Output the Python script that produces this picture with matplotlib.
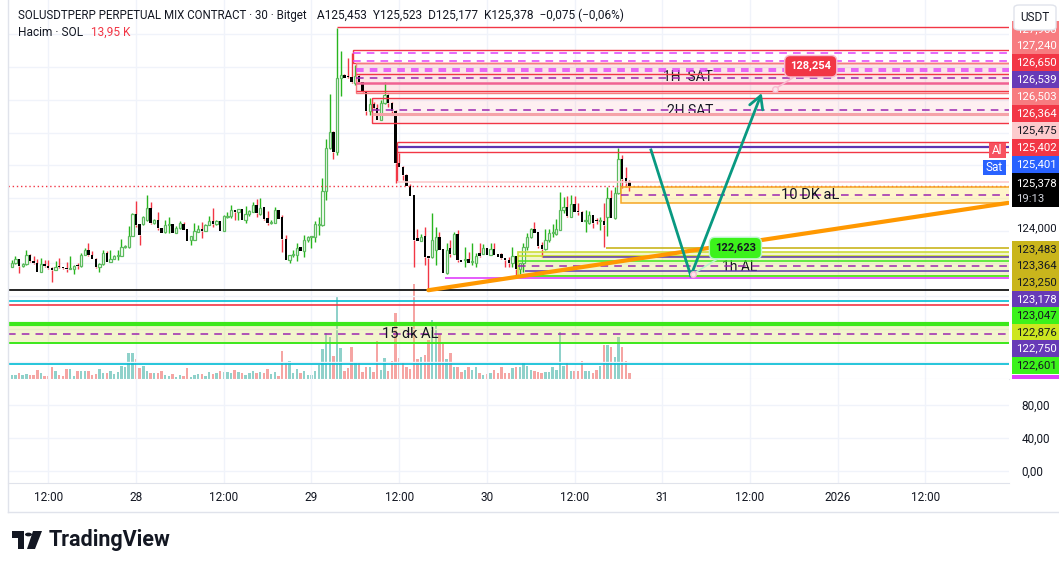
import matplotlib.pyplot as plt
from matplotlib.patches import Rectangle, FancyBboxPatch, Polygon, Circle
import numpy as np

plt.rcParams['font.family'] = ['Roboto', 'DejaVu Sans']

W, H = 1059, 570

# 30 minute bars, time counted in hours from 27 Dec 00:00
first_bar_hour = 7.0
bar_step = 0.5

opens = [
    122.90, 123.00, 123.12, 122.92, 122.97, 123.27, 123.07, 123.00, 122.75, 122.97,
    122.92, 122.86, 122.80, 122.90, 122.89, 122.85, 122.83, 122.84, 122.93, 122.92,
    123.27, 123.41, 123.25, 123.14, 122.88, 122.97, 123.33, 123.05, 123.14, 123.23,
    123.23, 123.49, 123.49, 123.85, 124.51, 124.19, 124.19, 124.32, 124.68, 124.24,
    124.34, 124.07, 123.97, 124.16, 124.19, 123.94, 124.07, 124.22, 124.04, 123.71,
    123.73, 123.96, 124.05, 123.99, 124.17, 124.29, 124.22, 124.30, 124.00, 124.43,
    124.45, 124.63, 124.58, 124.66, 124.32, 124.50, 124.58, 124.80, 124.51, 124.71,
    124.39, 124.25, 124.24, 124.62, 124.41, 123.76, 123.10, 123.25, 123.25, 123.50,
    123.37, 123.71, 123.81, 123.81, 124.17, 124.17, 125.21, 126.52, 127.01, 126.41,
    128.68, 128.76, 128.70, 128.69, 128.51, 128.74, 128.54, 128.23, 127.67, 127.87,
    127.74, 127.40, 127.90, 128.15, 127.92, 127.66, 126.08, 125.96, 125.70, 125.37,
    125.09, 123.79, 123.69, 123.84, 123.22, 123.20, 123.41, 123.82, 123.44, 122.71,
    123.46, 123.29, 123.90, 123.10, 123.10, 123.12, 123.05, 123.02, 123.33, 123.29,
    123.46, 123.26, 123.43, 123.29, 123.29, 123.15, 123.10, 123.02, 123.22, 122.82,
    123.00, 123.49, 123.80, 124.05, 123.95, 123.56, 123.43, 123.71, 123.92, 123.89,
    124.02, 124.63, 124.73, 124.43, 124.82, 124.60, 124.58, 124.30, 124.24, 124.48,
    124.31, 124.29, 124.31, 124.43, 124.99, 124.38, 125.14, 126.18, 125.60, 125.50,
]
highs = [
    123.10, 123.22, 123.14, 123.00, 123.41, 123.29, 123.24, 123.14, 123.16, 123.10,
    123.10, 122.90, 123.06, 123.16, 122.90, 123.05, 123.23, 122.95, 123.02, 123.32,
    123.48, 123.61, 123.37, 123.16, 123.01, 123.41, 123.38, 123.41, 123.25, 123.41,
    123.75, 123.56, 124.14, 124.53, 124.91, 124.20, 124.44, 125.09, 124.87, 124.36,
    124.56, 124.09, 124.32, 124.41, 124.20, 124.15, 124.29, 124.27, 124.06, 123.84,
    124.24, 124.16, 124.26, 124.19, 124.45, 124.70, 124.34, 124.31, 124.48, 124.56,
    124.78, 124.64, 124.67, 124.67, 124.76, 124.63, 124.89, 124.97, 124.99, 124.73,
    124.61, 124.32, 124.73, 124.63, 124.48, 123.86, 123.26, 123.41, 123.61, 123.51,
    123.86, 123.84, 123.83, 124.29, 124.43, 125.60, 126.80, 128.18, 127.05, 130.19,
    129.49, 128.78, 129.27, 129.42, 129.07, 128.76, 128.56, 128.25, 128.05, 127.94,
    127.87, 128.00, 128.56, 128.17, 127.93, 127.68, 126.39, 125.98, 125.72, 125.43,
    125.10, 124.05, 123.89, 124.12, 123.24, 124.55, 124.12, 123.97, 123.45, 123.61,
    123.71, 123.97, 124.02, 123.11, 123.49, 123.36, 123.61, 123.31, 123.61, 123.59,
    123.47, 123.61, 123.61, 123.30, 123.31, 123.16, 123.20, 123.51, 123.23, 123.01,
    123.61, 123.92, 124.07, 124.26, 123.96, 123.66, 124.06, 124.06, 124.22, 124.35,
    125.19, 125.04, 125.06, 125.09, 125.06, 124.86, 124.59, 124.63, 124.61, 124.49,
    124.38, 124.41, 124.84, 125.35, 125.24, 125.35, 126.52, 126.32, 125.96, 125.55,
]
lows = [
    122.88, 122.98, 122.71, 122.90, 122.95, 123.05, 122.98, 122.74, 122.73, 122.90,
    122.84, 122.43, 122.79, 122.85, 122.83, 122.73, 122.82, 122.69, 122.83, 122.90,
    123.26, 123.24, 123.12, 122.86, 122.73, 122.96, 123.03, 123.03, 123.12, 123.10,
    123.22, 123.47, 123.48, 123.83, 124.12, 123.56, 124.17, 124.30, 124.22, 124.22,
    124.02, 123.93, 123.92, 123.94, 123.93, 123.92, 124.06, 124.01, 123.67, 123.56,
    123.72, 123.95, 123.78, 123.98, 124.16, 124.12, 124.17, 123.99, 123.99, 124.38,
    124.38, 124.34, 124.32, 124.32, 124.24, 124.45, 124.57, 124.43, 124.48, 124.34,
    124.17, 124.20, 124.23, 124.36, 123.35, 123.09, 123.00, 123.20, 123.07, 123.37,
    123.20, 123.66, 123.48, 123.66, 123.88, 124.15, 124.94, 126.50, 126.19, 126.31,
    128.12, 128.66, 128.66, 128.51, 128.47, 128.52, 128.22, 127.54, 127.54, 127.72,
    127.38, 127.38, 127.88, 127.79, 127.59, 125.45, 125.95, 125.55, 125.36, 125.05,
    122.90, 123.68, 123.68, 122.95, 122.18, 123.18, 122.95, 123.40, 122.70, 122.67,
    123.20, 123.28, 123.05, 123.04, 122.90, 123.01, 122.95, 122.90, 123.21, 123.28,
    123.25, 123.25, 123.25, 123.19, 123.14, 122.90, 122.88, 122.90, 122.64, 122.69,
    122.75, 123.41, 123.79, 123.92, 123.47, 123.20, 123.42, 123.66, 123.82, 123.88,
    124.01, 124.53, 124.41, 124.42, 124.57, 124.47, 124.26, 123.97, 124.20, 124.09,
    124.22, 124.02, 123.49, 123.84, 124.38, 124.37, 125.12, 125.30, 125.35, 125.22,
]
closes = [
    123.00, 123.12, 122.92, 122.97, 123.27, 123.07, 123.00, 122.75, 122.97, 122.92,
    122.86, 122.80, 122.90, 122.89, 122.85, 122.83, 122.84, 122.93, 122.92, 123.27,
    123.41, 123.25, 123.14, 122.88, 122.97, 123.33, 123.05, 123.14, 123.23, 123.23,
    123.49, 123.49, 123.85, 124.51, 124.16, 123.87, 124.41, 124.68, 124.24, 124.34,
    124.07, 123.94, 124.17, 124.19, 123.94, 124.09, 124.24, 124.02, 123.68, 123.83,
    123.99, 124.06, 123.99, 124.18, 124.30, 124.22, 124.30, 124.00, 124.45, 124.45,
    124.63, 124.58, 124.66, 124.32, 124.51, 124.61, 124.80, 124.53, 124.70, 124.37,
    124.25, 124.26, 124.62, 124.37, 123.76, 123.10, 123.25, 123.27, 123.48, 123.37,
    123.73, 123.81, 123.82, 124.19, 124.21, 125.21, 126.52, 127.01, 126.41, 128.68,
    128.75, 128.68, 128.69, 128.54, 128.73, 128.54, 128.23, 127.67, 127.86, 127.74,
    127.40, 127.89, 128.15, 127.92, 127.66, 126.08, 125.96, 125.70, 125.37, 125.06,
    123.73, 123.69, 123.82, 123.20, 123.15, 123.71, 123.82, 123.41, 122.71, 123.41,
    123.29, 123.90, 123.10, 123.05, 123.11, 123.02, 123.06, 123.22, 123.22, 123.46,
    123.26, 123.43, 123.26, 123.20, 123.15, 123.10, 123.02, 123.22, 122.82, 123.00,
    123.51, 123.80, 124.04, 123.94, 123.53, 123.43, 123.71, 123.92, 123.93, 124.04,
    124.63, 124.73, 124.45, 124.82, 124.58, 124.56, 124.28, 124.30, 124.47, 124.24,
    124.30, 124.29, 124.17, 124.99, 124.40, 125.14, 126.18, 125.57, 125.47, 125.38,
]
volumes_k = [
    10, 10, 15, 10, 12.5, 10, 10, 22.5, 15, 7.5,
    7.5, 30, 20, 10, 7.5, 25, 25, 7.5, 20, 20,
    20, 20, 10, 12.5, 25, 15, 15, 20, 12.5, 17.5,
    32.5, 30, 65, 65, 50, 27.5, 32.5, 20, 15, 15,
    15, 20, 10, 7.5, 12.5, 5, 10, 7.5, 27.5, 5,
    10, 12.5, 12.5, 7.5, 17.5, 12.5, 15, 20, 17.5, 17.5,
    15, 22.5, 17.5, 15, 10, 15, 20, 15, 17.5, 15,
    25, 12.5, 17.5, 7.5, 70, 42.5, 45, 15, 25, 15,
    20, 10, 10, 20, 35, 75, 115, 105, 57.5, 207.5,
    77.5, 20, 27.5, 80, 40, 40, 17.5, 30, 30, 17.5,
    95, 22.5, 52.5, 20, 45, 165, 52.5, 40, 30, 25,
    237.5, 50, 55, 60, 97.5, 147.5, 132.5, 112.5, 87.5, 50,
    65, 30, 30, 17.5, 22.5, 30, 22.5, 30, 15, 10,
    12.5, 15, 22.5, 15, 30, 15, 15, 27.5, 30, 30,
    40, 32.5, 22.5, 20, 17.5, 15, 17.5, 17.5, 30, 22.5,
    117.5, 32.5, 42.5, 20, 20, 20, 45, 20, 20, 15,
    22.5, 32.5, 85, 85, 80, 55, 105, 80, 45, 13.95,
]

time_ticks = [12, 24, 36, 48, 60, 72, 84, 96, 108, 120, 132]
time_labels = ['12:00', '28', '12:00', '29', '12:00', '30', '12:00', '31', '12:00', '2026', '12:00']
osc_ticks = [0, 40, 80]
osc_labels = ['0,00', '40,00', '80,00']

# drawings on the chart (hour where they start, prices)
spike_ray = (51.5, 130.22)
box_a = (53.7, 129.52, 129.12)
box_a_dashes = [129.43, 129.19]
box_b = (54.1, 129.12, 128.22)
box_b_dashes = [128.94, 128.88, 128.66]
box_b_lines = [128.78, 128.51, 128.28]
box_c = (56.3, 128.05, 127.28)
box_c_dash = 127.69
box_c_thick = 127.57
res_start = 59.7
res_lines = [126.70, 126.40]
res_mid = 126.57
pale_line = 125.475
last_price = 125.378
dk10_box = (90.35, 125.33, 124.84)
dk10_dash = 125.09
olive_line = (88.3, 123.48)
h1_box = (76.25, 123.36, 122.61)
h1_lime = [123.23, 123.07, 122.62]
h1_dash = 122.93
purple_lines = [(79.7, 123.19), (77.2, 122.76)]
magenta_line = (66.3, 122.54)
low_line = 122.18
cyan_lines = [121.84, 119.92]
red_line = 121.72
dk15_box = (121.15, 120.56)
dk15_dash = 120.84
trend_hours = [64.0, 143.3]
trend_prices = [122.18, 124.85]
path_hours = [94.45, 99.9, 109.6]
path_prices = [126.47, 122.62, 128.21]
target_hi = (111.4, 128.33, '128,254')
target_lo = (100.2, 122.68, '122,623')

# stacked price scale tags (text, background, text colour)
upper_tags = [('127,240', '#F77C80', 'white'), ('126,650', '#F23645', 'white'),
              ('126,539', '#673AB7', 'white'), ('126,503', '#F77C80', 'white'),
              ('126,364', '#F23645', 'white'), ('125,475', '#FCCBCD', '#131722'),
              ('125,402', '#F23645', 'white'), ('125,401', '#2962FF', 'white')]
lower_tags = [('123,483', '#C9B51C', '#131722'), ('123,364', '#C9B51C', '#131722'),
              ('123,250', '#C9B51C', '#131722'), ('123,178', '#673AB7', 'white'),
              ('123,047', '#3CF21B', '#131722'), ('122,876', '#CDE620', '#131722'),
              ('122,750', '#673AB7', 'white'), ('122,601', '#3CF21B', '#131722')]

RED = '#F23645'
PURPLE_D = '#9C27B0'
MAGENTA = '#E040FB'
LIME = '#3CE81B'
GRID = '#F0F3FA'
TAG_FS = 8.2


def fx(px):
    return px / W


def fy(py):
    return 1 - py / H


fig = plt.figure(figsize=(W / 100, H / 100), dpi=100)
fig.patch.set_facecolor('white')

ax_left, ax_right = 8, 1009
ax = fig.add_axes([fx(ax_left), fy(379), (ax_right - ax_left) / W, 379 / H])
osc = fig.add_axes([fx(ax_left), fy(483), (ax_right - ax_left) / W, 104 / H])

x0 = 24 + (ax_left - 136) / 7.31
x1 = 24 + (ax_right - 136) / 7.31
ax.set_xlim(x0, x1)
osc.set_xlim(x0, x1)
ax.set_ylim(119.465, 131.055)
osc.set_ylim(-14.5, 111.5)

# volume behind candles
vol = ax.twinx()
vol.set_ylim(0, 947.5)
vol.set_zorder(ax.get_zorder() - 1)
ax.patch.set_visible(False)

o = np.array(opens)
hi = np.array(highs)
lo = np.array(lows)
c = np.array(closes)
t = first_bar_hour + bar_step * np.arange(len(o))
up = c >= o
top = np.maximum(o, c)
bot = np.minimum(o, c)

vol.bar(t, volumes_k, width=0.33, color=np.where(up, '#8FD1CA', '#F5A5A3'), linewidth=0)

for a in (ax, osc, vol):
    for s in a.spines.values():
        s.set_visible(False)
    a.tick_params(length=0)
vol.set_yticks([])
ax.set_yticks(np.arange(120, 131))
ax.set_yticklabels([])
ax.set_xticks(time_ticks)
ax.set_xticklabels([])
ax.grid(True, color=GRID, lw=1, zorder=0)
osc.set_xticks(time_ticks)
osc.set_xticklabels(time_labels, fontsize=8.5, color='#131722')
osc.tick_params(axis='x', pad=6)
osc.yaxis.tick_right()
osc.set_yticks(osc_ticks)
osc.set_yticklabels(osc_labels, fontsize=8.5, color='#131722', ha='left')
osc.tick_params(axis='y', pad=9)
osc.grid(True, color=GRID, lw=1)
osc.spines['bottom'].set_visible(True)
osc.spines['bottom'].set_color('#E0E3EB')
ax.spines['bottom'].set_visible(True)
ax.spines['bottom'].set_color('#E6E8EE')

# candles (hollow up bars, filled down bars)
ax.vlines(t[up], top[up], hi[up], color='#28B51E', lw=1, zorder=3)
ax.vlines(t[up], lo[up], bot[up], color='#28B51E', lw=1, zorder=3)
ax.vlines(t[~up], top[~up], hi[~up], color=RED, lw=1, zorder=3)
ax.vlines(t[~up], lo[~up], bot[~up], color=RED, lw=1, zorder=3)
body = np.maximum(top - bot, 0.03)
ax.bar(t[up], body[up], bottom=bot[up], width=0.32, facecolor='white', edgecolor='#5DBB5F',
       linewidth=0.9, zorder=4)
ax.bar(t[~up], body[~up], bottom=bot[~up], width=0.32, color='black', linewidth=0, zorder=4)

xr = x1

# sell zones at the top
ax.hlines(spike_ray[1], spike_ray[0], xr, color=RED, lw=1, zorder=5)
ax.add_patch(Rectangle((box_a[0], box_a[2]), xr - box_a[0] + 1, box_a[1] - box_a[2],
                       facecolor='none', edgecolor=RED, lw=1, zorder=5))
ax.hlines(box_a_dashes, box_a[0], xr, color=MAGENTA, lw=1.1, linestyles=(0, (5, 4)), zorder=5)
ax.add_patch(Rectangle((box_b[0], box_b[2]), xr - box_b[0] + 1, box_b[1] - box_b[2],
                       facecolor=RED, alpha=0.12, edgecolor='none', zorder=2))
ax.add_patch(Rectangle((box_b[0], box_b[2]), xr - box_b[0] + 1, box_b[1] - box_b[2],
                       facecolor='none', edgecolor='#F77C80', lw=1, zorder=5))
ax.hlines(box_b_dashes, box_b[0], xr, color=[MAGENTA, MAGENTA, PURPLE_D], lw=1.1,
          linestyles=(0, (5, 4)), zorder=5)
ax.hlines(box_b_lines, box_b[0], xr, color=[RED, '#F06292', RED], lw=[1, 1.8, 1], zorder=5)
ax.add_patch(Rectangle((box_c[0], box_c[2]), xr - box_c[0] + 1, box_c[1] - box_c[2],
                       facecolor=RED, alpha=0.07, edgecolor='none', zorder=2))
ax.add_patch(Rectangle((box_c[0], box_c[2]), xr - box_c[0] + 1, box_c[1] - box_c[2],
                       facecolor='none', edgecolor=RED, lw=1, zorder=5))
ax.hlines(box_c_dash, box_c[0], xr, color=PURPLE_D, lw=1.1, linestyles=(0, (5, 4)), zorder=5)
ax.hlines(box_c_thick, box_c[0], xr, color='#F5A3A8', lw=2.2, zorder=5)
ax.text(99.5, 128.70, '1H  SAT', fontsize=10, color='#131722', ha='center', va='center', zorder=4)
ax.text(99.8, 127.66, '2H SAT', fontsize=10, color='#131722', ha='center', va='center', zorder=4)

ax.hlines(res_lines, res_start, xr, color=RED, lw=1, zorder=5)
ax.hlines(res_mid, res_start, xr, color='#5E35B1', lw=1.6, zorder=5)
ax.vlines(res_start, pale_line, res_lines[0], color=RED, lw=1, zorder=5)
ax.hlines(pale_line, res_start, xr, color='#FCCBCD', lw=1.2, zorder=5)
ax.axhline(last_price, color=RED, lw=1, ls=(0, (1, 2)), zorder=5)

# 10 DK zone
ax.add_patch(Rectangle((dk10_box[0], dk10_box[2]), xr - dk10_box[0] + 1, dk10_box[1] - dk10_box[2],
                       facecolor='#FFEB8A', alpha=0.45, edgecolor='none', zorder=2))
ax.add_patch(Rectangle((dk10_box[0], dk10_box[2]), xr - dk10_box[0] + 1, dk10_box[1] - dk10_box[2],
                       facecolor='none', edgecolor='#F5A623', lw=1.1, zorder=5))
ax.hlines(dk10_dash, dk10_box[0], xr, color=PURPLE_D, lw=1.1, linestyles=(0, (5, 4)), zorder=5)
ax.text(116.2, dk10_dash, '10 DK aL', fontsize=10.5, color='#131722', ha='center', va='center',
        zorder=6)

# 1h buy zone
ax.hlines(olive_line[1], olive_line[0], xr, color='#C9B51C', lw=1.2, zorder=5)
ax.add_patch(Rectangle((h1_box[0], h1_box[2]), xr - h1_box[0] + 1, h1_box[1] - h1_box[2],
                       facecolor='#D4E157', alpha=0.3, edgecolor='none', zorder=2))
ax.add_patch(Rectangle((h1_box[0], h1_box[2]), xr - h1_box[0] + 1, h1_box[1] - h1_box[2],
                       facecolor='none', edgecolor='#CDDC39', lw=1.2, zorder=5))
ax.hlines(h1_lime, h1_box[0], xr, color=['#C6E01E', LIME, LIME], lw=1.1, zorder=5)
ax.hlines(h1_dash, h1_box[0], xr, color=PURPLE_D, lw=1.1, linestyles=(0, (5, 4)), zorder=5)
for start, price in purple_lines:
    ax.hlines(price, start, xr, color='#5E35B1', lw=1.1, zorder=5)
ax.hlines(magenta_line[1], magenta_line[0], xr, color=MAGENTA, lw=1.2, zorder=5)
ax.text(106.6, 122.90, '1h AL', fontsize=10, color='#131722', ha='center', va='center', zorder=4)

# levels below the low
ax.axhline(low_line, color='black', lw=1.2, zorder=5)
for p in cyan_lines:
    ax.axhline(p, color='#00BCD4', lw=1.2, zorder=5)
ax.axhline(red_line, color=RED, lw=1.2, zorder=5)
ax.axhspan(dk15_box[1], dk15_box[0], facecolor='#D4E157', alpha=0.3, lw=0, zorder=2)
ax.axhline(dk15_box[0], color=LIME, lw=3, zorder=5)
ax.axhline(dk15_box[1], color=LIME, lw=1.4, zorder=5)
ax.axhline(dk15_dash, color=PURPLE_D, lw=1.1, ls=(0, (5, 4)), zorder=5)
ax.text(61.5, dk15_dash, '15 dk AL', fontsize=10.5, color='#131722', ha='center', va='center',
        zorder=6)

# trend line and projected path
ax.plot(trend_hours, trend_prices, color='#FF9800', lw=3, solid_capstyle='round', zorder=6)
ax.plot(path_hours[:2], path_prices[:2], color='#089981', lw=2, zorder=7)
ax.annotate('', xy=(path_hours[2], path_prices[2]), xytext=(path_hours[1], path_prices[1]),
            arrowprops=dict(arrowstyle='->,head_length=0.9,head_width=0.5', color='#089981',
                            lw=2, shrinkA=0, shrinkB=0), zorder=7)

ax.annotate(target_hi[2], xy=target_hi[:2], xytext=(116.3, 129.03), fontsize=8,
            fontweight='bold', color='white', ha='center', va='center', zorder=8,
            bbox=dict(boxstyle='round,pad=0.5', fc=RED, ec='#F8BBD0', lw=1),
            arrowprops=dict(arrowstyle='-', color='#F8BBD0', lw=1.2, shrinkA=0, shrinkB=2))
ax.plot(*target_hi[:2], 'o', ms=4, mfc='#FCE4EC', mec='#F8BBD0', zorder=8)
ax.annotate(target_lo[2], xy=target_lo[:2], xytext=(106.0, 123.47), fontsize=8,
            fontweight='bold', color='#131722', ha='center', va='center', zorder=8,
            bbox=dict(boxstyle='round,pad=0.5', fc='#3CF21B', ec='#B9F6CA', lw=1),
            arrowprops=dict(arrowstyle='-', color='#B9F6CA', lw=1.2, shrinkA=0, shrinkB=2))
ax.plot(*target_lo[:2], 'o', ms=4, mfc='#FCE4EC', mec='#F8BBD0', zorder=8)


# price scale tags
def tag(y_mid, text, bg, fg, h=17):
    fig.patches.append(Rectangle((fx(1012), fy(y_mid + h / 2)), fx(47), h / H,
                                 transform=fig.transFigure, facecolor=bg, edgecolor='none', zorder=2))
    fig.text(fx(1016), fy(y_mid), text, color=fg, fontsize=TAG_FS, va='center', ha='left', zorder=3)


tag(29, '127,960', '#F77C80', 'white')
for i, (txt, bg, fg) in enumerate(upper_tags):
    tag(45.5 + 17 * i, txt, bg, fg)
for i, (txt, bg, fg) in enumerate(lower_tags):
    tag(249 + 16.6 * i, txt, bg, fg, h=16.6)
fig.patches.append(Rectangle((fx(1012), fy(379)), fx(47), 4.5 / H, transform=fig.transFigure,
                             facecolor=MAGENTA, edgecolor='none', zorder=2))
fig.patches.append(Rectangle((fx(1012), fy(207)), fx(47), 34 / H, transform=fig.transFigure,
                             facecolor='black', edgecolor='none', zorder=2))
fig.text(fx(1016), fy(183), f'{last_price:.3f}'.replace('.', ','), color='white', fontsize=TAG_FS,
         va='center', zorder=3)
fig.text(fx(1016), fy(199), '19:13', color='#D1D4DC', fontsize=TAG_FS, va='center', zorder=3)
fig.text(fx(1016), fy(228), '124,000', color='#131722', fontsize=TAG_FS, va='center', zorder=3)

# Al / Sat buttons
fig.patches.append(Rectangle((fx(989), fy(158)), fx(17), 15 / H, transform=fig.transFigure,
                             facecolor='#F7525F', edgecolor='none', zorder=2))
fig.text(fx(997.5), fy(150.5), 'Al', color='white', fontsize=8.5, ha='center', va='center', zorder=3)
fig.patches.append(Rectangle((fx(983), fy(175)), fx(23), 15 / H, transform=fig.transFigure,
                             facecolor='#2962FF', edgecolor='none', zorder=2))
fig.text(fx(994.5), fy(167.5), 'Sat', color='white', fontsize=8.5, ha='center', va='center', zorder=3)

# currency button
fig.patches.append(FancyBboxPatch((fx(1014), fy(30)), fx(42), 25 / H, transform=fig.transFigure,
                                  boxstyle='round,pad=0,rounding_size=0.005', facecolor='white',
                                  edgecolor='#E0E3EB', lw=1, zorder=4))
fig.text(fx(1035), fy(17.5), 'USDT', color='#131722', fontsize=8.5, ha='center', va='center', zorder=5)

# legend
fig.text(fx(18), fy(15), 'SOLUSDTPERP PERPETUAL MIX CONTRACT · 30 · Bitget', fontsize=8.3,
         color='#131722', va='center')
fig.text(fx(317), fy(15), 'A125,453  Y125,523  D125,177  K125,378  −0,075 (−0,06%)', fontsize=8.6,
         color='#131722', va='center')
fig.text(fx(18), fy(32), 'Hacim · SOL', fontsize=8.6, color='#131722', va='center')
fig.text(fx(91), fy(32), '13,95 K', fontsize=8.6, color=RED, va='center')

# widget frame
fig.add_artist(plt.Line2D([fx(8), fx(8)], [fy(0), fy(512)], color='#E0E3EB', lw=1))
fig.add_artist(plt.Line2D([fx(8), fx(1059)], [fy(512), fy(512)], color='#E0E3EB', lw=1))

# TradingView logo
fig.patches.append(Rectangle((fx(12), fy(538)), fx(12), 7 / H, transform=fig.transFigure,
                             facecolor='#131722', zorder=2))
fig.patches.append(Rectangle((fx(18), fy(549)), fx(6), 18 / H, transform=fig.transFigure,
                             facecolor='#131722', zorder=2))
fig.patches.append(Circle((fx(28.5), fy(534.5)), 3.5 / W, transform=fig.transFigure,
                          facecolor='#131722', zorder=2))
fig.patches.append(Polygon([(fx(33), fy(531)), (fx(42), fy(531)), (fx(35), fy(549)), (fx(27), fy(549))],
                           closed=True, transform=fig.transFigure, facecolor='#131722', zorder=2))
fig.text(fx(49), fy(540), 'TradingView', fontsize=15.5, fontweight='bold', color='#131722', va='center')

fig.savefig('out.png', dpi=100)
